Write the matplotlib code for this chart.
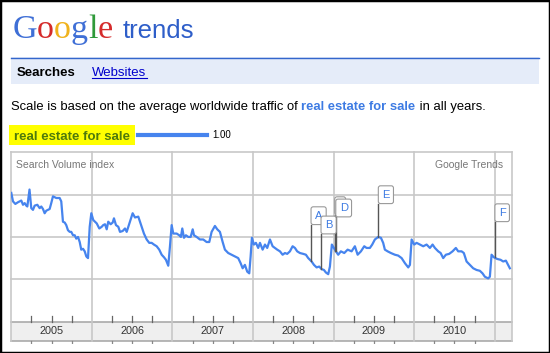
import numpy as np
import matplotlib
matplotlib.use("Agg")
import matplotlib.pyplot as plt
from matplotlib.patches import Rectangle

# weekly-ish samples (fractional year, relative search volume)
dates = [
    2005.000, 2005.021, 2005.050, 2005.083, 2005.124, 2005.145, 2005.166, 2005.186, 2005.199, 2005.226,
    2005.248, 2005.269, 2005.290, 2005.323, 2005.352, 2005.372, 2005.393, 2005.414, 2005.434, 2005.476,
    2005.496, 2005.517, 2005.558, 2005.600, 2005.620, 2005.641, 2005.663, 2005.682, 2005.703, 2005.725,
    2005.744, 2005.766, 2005.787, 2005.806, 2005.828, 2005.849, 2005.868, 2005.890, 2005.911, 2005.931,
    2005.952, 2005.973, 2005.993,
    2006.017, 2006.038, 2006.060, 2006.092, 2006.122, 2006.141, 2006.163, 2006.184, 2006.203, 2006.233,
    2006.258, 2006.274, 2006.299, 2006.328, 2006.349, 2006.382, 2006.411, 2006.432, 2006.473, 2006.506,
    2006.535, 2006.576, 2006.618, 2006.646, 2006.680, 2006.712, 2006.742, 2006.770, 2006.804, 2006.836,
    2006.866, 2006.895, 2006.919, 2006.948, 2006.969, 2006.990,
    2007.010, 2007.052, 2007.084, 2007.105, 2007.122, 2007.143, 2007.167, 2007.196, 2007.226, 2007.251,
    2007.267, 2007.300, 2007.341, 2007.382, 2007.424, 2007.457, 2007.486, 2007.527, 2007.556, 2007.589,
    2007.623, 2007.651, 2007.692, 2007.734, 2007.775, 2007.816, 2007.846, 2007.871, 2007.899, 2007.928,
    2007.953, 2007.970, 2007.986,
    2008.011, 2008.036, 2008.064, 2008.086, 2008.119, 2008.148, 2008.176, 2008.210, 2008.243, 2008.272,
    2008.300, 2008.334, 2008.367, 2008.396, 2008.424, 2008.458, 2008.491, 2008.520, 2008.548, 2008.582,
    2008.623, 2008.656, 2008.685, 2008.727, 2008.756, 2008.789, 2008.821, 2008.851, 2008.880, 2008.904,
    2008.933, 2008.954, 2008.978,
    2009.003, 2009.028, 2009.057, 2009.090, 2009.132, 2009.174, 2009.223, 2009.264, 2009.298, 2009.339,
    2009.380, 2009.409, 2009.450, 2009.479, 2009.512, 2009.553, 2009.587, 2009.615, 2009.636, 2009.670,
    2009.711, 2009.760, 2009.801, 2009.844, 2009.885, 2009.926, 2009.947, 2009.968,
    2010.000, 2010.030, 2010.071, 2010.112, 2010.154, 2010.195, 2010.228, 2010.257, 2010.298, 2010.328,
    2010.360, 2010.393, 2010.434, 2010.476, 2010.517, 2010.546, 2010.588, 2010.616, 2010.650, 2010.691,
    2010.732, 2010.774, 2010.815, 2010.848, 2010.877, 2010.918, 2010.939, 2010.960, 2010.988,
    2011.030, 2011.072, 2011.104, 2011.138, 2011.166, 2011.187,
]
volume = [
    1.52, 1.42, 1.39, 1.41, 1.43, 1.38, 1.40, 1.37, 1.36, 1.56,
    1.34, 1.32, 1.37, 1.38, 1.34, 1.36, 1.33, 1.28, 1.31, 1.33,
    1.40, 1.48, 1.46, 1.46, 1.42, 1.18, 1.17, 1.14, 1.08, 1.06,
    1.06, 1.02, 1.02, 0.98, 1.00, 0.94, 0.85, 0.86, 0.83, 0.77,
    0.75, 1.12, 1.28,
    1.20, 1.18, 1.16, 1.10, 1.12, 1.14, 1.15, 1.09, 1.18, 1.15,
    1.17, 1.22, 1.14, 1.12, 1.06, 1.07, 1.10, 1.06, 1.18, 1.28,
    1.23, 1.24, 1.12, 1.04, 0.97, 0.93, 0.93, 0.91, 0.89, 0.85,
    0.79, 0.76, 0.73, 0.66, 0.89, 1.14,
    1.04, 1.04, 1.02, 1.00, 1.10, 0.99, 1.02, 1.00, 1.00, 1.09,
    1.02, 1.00, 0.97, 0.97, 0.94, 0.94, 1.06, 1.13, 1.09, 1.06,
    0.94, 0.85, 0.81, 0.79, 0.77, 0.75, 0.69, 0.63, 0.67, 0.59,
    0.57, 0.77, 0.99,
    0.91, 0.93, 0.87, 0.93, 0.85, 0.91, 0.87, 0.97, 0.89, 0.87,
    0.85, 0.83, 0.79, 0.81, 0.80, 0.83, 0.89, 0.87, 0.83, 0.81,
    0.80, 0.79, 0.75, 0.71, 0.67, 0.64, 0.65, 0.62, 0.61, 0.58,
    0.56, 0.65, 0.91,
    0.87, 0.83, 0.79, 0.83, 0.81, 0.85, 0.83, 0.89, 0.79, 0.83,
    0.89, 0.87, 0.87, 0.91, 0.97, 1.00, 0.99, 0.93, 0.85, 0.83,
    0.81, 0.79, 0.78, 0.75, 0.69, 0.64, 0.67, 0.97,
    0.91, 0.93, 0.91, 0.89, 0.91, 0.87, 0.91, 0.87, 0.83, 0.81,
    0.75, 0.79, 0.80, 0.83, 0.87, 0.83, 0.83, 0.81, 0.71, 0.67,
    0.63, 0.61, 0.60, 0.57, 0.53, 0.51, 0.53, 0.79, 0.76,
    0.74, 0.73, 0.71, 0.72, 0.67, 0.63,
]

years = [2005, 2006, 2007, 2008, 2009, 2010]
x_end = 2011.21

# news event flags (C sits right behind D)
ev_letters = ["A", "B", "C", "D", "E", "F"]
ev_dates = [2008.718, 2008.842, 2009.012, 2009.025, 2009.553, 2011.000]
ev_base = [0.71, 0.62, 0.83, 0.83, 1.00, 0.76]
ev_flag = [1.142, 1.032, 1.26, 1.233, 1.39, 1.177]

W, H = 550, 353
fig = plt.figure(figsize=(W / 100, H / 100), dpi=100)
plt.rcParams["font.family"] = ["Liberation Sans", "DejaVu Sans"]


def fx(x):
    return x / W


def fy(y):
    return 1 - y / H


renderer = fig.canvas.get_renderer()


def run_text(x, y, parts, **kw):
    # draw text pieces one after another on the same baseline
    for s, extra in parts:
        t = fig.text(fx(x), fy(y), s, va="baseline", ha="left", **kw, **extra)
        x += t.get_window_extent(renderer).width
    return x


# outer black border
fig.patches.append(Rectangle((0, 0), 1, 1, transform=fig.transFigure,
                             fill=False, ec="black", lw=2.5))

# Google logo
logo_cols = ["#3f6fd6", "#d52b2b", "#f0b21c", "#3f6fd6", "#2f9a3a", "#d52b2b"]
run_text(12.5, 38, [(ch, dict(color=c)) for ch, c in zip("Google", logo_cols)],
         fontsize=24.5, family="Liberation Serif")
fig.text(fx(123), fy(38), "trends", color="#2e5ec9", fontsize=18.5,
         va="baseline", ha="left")

# tab bar
fig.patches.append(Rectangle((fx(11), fy(84)), fx(539) - fx(11), fy(57) - fy(84),
                             transform=fig.transFigure, fc="#e5ecf9", ec="none"))
fig.add_artist(plt.Line2D([fx(11), fx(539)], [fy(57.5), fy(57.5)],
                          transform=fig.transFigure, color="#3366cc", lw=1))
fig.text(fx(17), fy(76), "Searches", fontsize=9.5, weight="bold", va="baseline")
fig.text(fx(92), fy(76), "Websites", fontsize=9.5, color="#0000cc", va="baseline")
fig.add_artist(plt.Line2D([fx(92), fx(146.5)], [fy(78), fy(78)],
                          transform=fig.transFigure, color="#0000cc", lw=0.8))

run_text(11, 110, [("Scale is based on the average worldwide traffic of ", {}),
                   ("real estate for sale", dict(weight="bold", color="#3d7be3")),
                   (" in all years.", {})], fontsize=9.4)

# legend row
fig.patches.append(Rectangle((fx(9), fy(145)), fx(135) - fx(9), fy(125) - fy(145),
                             transform=fig.transFigure, fc="#ffff00", ec="none"))
fig.text(fx(14), fy(139.5), "real estate for sale", fontsize=9.5, weight="bold",
         color="#4f7a0c", va="baseline")
fig.add_artist(plt.Line2D([fx(138), fx(207)], [fy(135), fy(135)],
                          transform=fig.transFigure, color="#4684ee", lw=3))
fig.text(fx(212), fy(135), "1.00", fontsize=7, va="center")

# chart axes: y 2.0 at top (px 152.3), 0 at px 321.6, band below to -0.26
top_px, zero_px, per = 152.3, 321.6, 84.6
ymin = -0.26
bot_px = zero_px - ymin * per
ax = fig.add_axes([fx(11.3), fy(bot_px), fx(511.7) - fx(11.3), fy(top_px) - fy(bot_px)])
ax.set_xlim(2005, x_end)
ax.set_ylim(ymin, 2.0)
ax.set_axis_off()

grid = "#c8c8c8"
band_lo = -0.226
ax.fill_between([2005, x_end], band_lo, 0, color="#efefef", lw=0)
for yv in [0.5, 1.0, 1.5, 2.0]:
    ax.plot([2005, x_end], [yv, yv], color=grid, lw=1.2, clip_on=False)
ax.plot([2005, x_end], [0, 0], color="#aaaaaa", lw=1.2, clip_on=False)
ax.plot([2005, x_end], [band_lo, band_lo], color="#aaaaaa", lw=1.2, clip_on=False)
for yr in years[1:] + [2011]:
    ax.plot([yr, yr], [band_lo, 2.0], color=grid, lw=1.2, clip_on=False)
ax.plot([2005, 2005], [band_lo, 2.0], color=grid, lw=1.2, clip_on=False)
ax.plot([x_end, x_end], [band_lo, 2.0], color=grid, lw=1.2, clip_on=False)
for yr in years + [2011]:
    for q in [0.25, 0.5, 0.75]:
        if yr + q < x_end:
            ax.plot([yr + q, yr + q], [0, 0.07], color="#666666", lw=0.9)
            ax.plot([yr + q, yr + q], [band_lo, band_lo - 0.03], color="#888888", lw=0.9)
for yr in years:
    ax.text(yr + 0.5, band_lo / 2, str(yr), ha="center", va="center",
            fontsize=7.8, color="#333333")

ax.plot(dates, volume, color="#4684ee", lw=1.6, solid_joinstyle="round", zorder=3)

ax.text(2005.06, 1.85, "Search Volume index", fontsize=7.5, color="#777777", va="center")
ax.text(x_end - 0.11, 1.85, "Google Trends", fontsize=7.5, color="#777777",
        va="center", ha="right")

# event flags
flag_box = dict(boxstyle="round,pad=0.35,rounding_size=0.2", fc="white",
                ec="#999999", lw=0.8)
for lt, d, b, f in zip(ev_letters, ev_dates, ev_base, ev_flag):
    ax.plot([d, d], [b, f], color="#555555", lw=1, zorder=4)
    # C is fully covered by D's flag, only its box edge peeks out
    label = " " if lt == "C" else lt
    ax.text(d + 0.05, f + 0.05, label, fontsize=8, color="#3d7be3", ha="left",
            va="bottom", zorder=5, bbox=flag_box)

fig.savefig("out.png", dpi=100)
